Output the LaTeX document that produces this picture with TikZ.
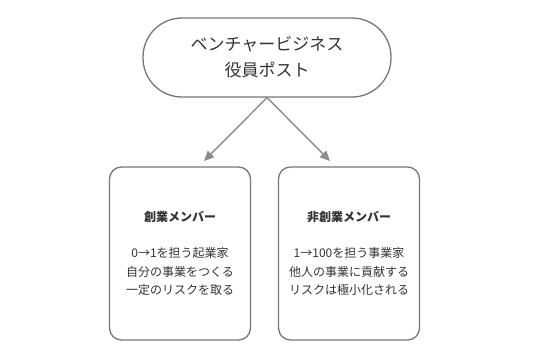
\documentclass[tikz,border=0pt]{standalone}
\usepackage{fontspec}
\newfontfamily\jpfont{Noto Sans CJK JP}
\usepackage{xcolor}
\usetikzlibrary{arrows.meta, positioning}
\definecolor{linegray}{HTML}{777777}
\definecolor{arrowgray}{HTML}{8C8C8C}
\definecolor{textgray}{HTML}{333333}

\begin{document}
\begin{tikzpicture}[
  x=1pt, y=1pt,
  pill/.style={draw=linegray, line width=1.3pt, rounded corners=39pt, minimum width=248pt, minimum height=79pt, text=textgray, font=\jpfont\fontsize{17}{26}\selectfont, align=center},
  member/.style={draw=linegray, line width=1.3pt, rounded corners=12pt, minimum width=141pt, minimum height=173pt, text=textgray, font=\jpfont\fontsize{12}{18.5}\selectfont, align=center},
  arr/.style={-{Triangle[length=10pt, width=9pt]}, line width=1.4pt, arrowgray}
]
  \useasboundingbox (0,0) rectangle (537,360);

  % Top: role posts
  \node[pill] (post) at (267, 302.5) {ベンチャービジネス\\役員ポスト};

  % Member boxes
  \node[member] (founder) at (180, 106.5) {{\bfseries 創業メンバー}\\[17.5pt]0→1を担う起業家\\自分の事業をつくる\\一定のリスクを取る};
  \node[member] (nonfounder) at (349, 106.5) {{\bfseries 非創業メンバー}\\[17.5pt]1→100を担う事業家\\他人の事業に貢献する\\リスクは極小化される};

  % Arrow ends just above the boxes
  \coordinate (fend) at (204, 199);
  \coordinate (nend) at (330, 199);

  \draw[arr] (post.south) -- (fend);
  \draw[arr] (post.south) -- (nend);

\end{tikzpicture}
\end{document}
